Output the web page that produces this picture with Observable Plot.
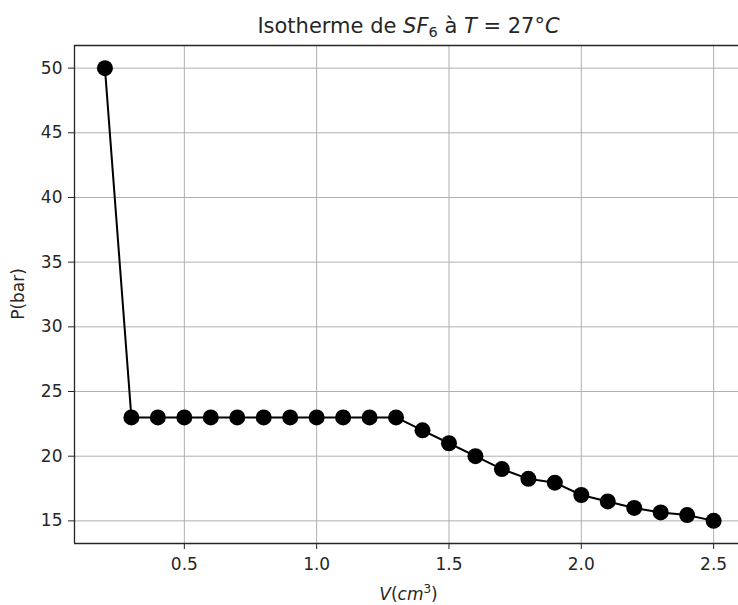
<!DOCTYPE html>
<html>
<head>
<meta charset="utf-8">
<script src="https://cdn.jsdelivr.net/npm/d3@7"></script>
<script src="https://cdn.jsdelivr.net/npm/@observablehq/plot@0.6"></script>
<style>
  body { margin: 0; background: white; }
  #chart svg { display: block; }
</style>
</head>
<body>
<div id="chart"></div>
<script>
const V = [0.2, 0.3, 0.4, 0.5, 0.6, 0.7, 0.8, 0.9, 1.0, 1.1, 1.2, 1.3, 1.4, 1.5, 1.6, 1.7, 1.8, 1.9, 2.0, 2.1, 2.2, 2.3, 2.4, 2.5];
const P = [50, 23, 23, 23, 23, 23, 23, 23, 23, 23, 23, 23, 22, 21, 20, 19, 18.25, 17.95, 17, 16.5, 16, 15.65, 15.45, 15];
const xTicks = [0.5, 1.0, 1.5, 2.0, 2.5];
const yTicks = [15, 20, 25, 30, 35, 40, 45, 50];
const xDomain = [0.085, 2.594];
const yDomain = [13.25, 51.75];

const data = V.map((v, i) => ({V: v, P: P[i]}));
const grid = "#b0b0b0";
const ink = "#262626";

const chart = Plot.plot({
  width: 738,
  height: 605,
  marginLeft: 74,
  marginRight: 0,
  marginTop: 45,
  marginBottom: 62,
  style: {fontFamily: "DejaVu Sans", fontSize: "17px", color: ink, background: "white", overflow: "visible"},
  x: {domain: xDomain},
  y: {domain: yDomain},
  marks: [
    Plot.gridX(xTicks, {stroke: grid, strokeOpacity: 1, strokeWidth: 1}),
    Plot.gridY(yTicks, {stroke: grid, strokeOpacity: 1, strokeWidth: 1}),
    Plot.axisX(xTicks, {tickFormat: d => d.toFixed(1), tickSize: 6, tickPadding: 8, label: null, fontSize: 17, stroke: ink}),
    Plot.axisY(yTicks, {tickSize: 6, tickPadding: 6, label: null, fontSize: 17, stroke: ink}),
    Plot.ruleX([xDomain[0]], {stroke: ink, strokeWidth: 1.3}),
    Plot.ruleY(yDomain, {stroke: ink, strokeWidth: 1.3}),
    Plot.line(data, {x: "V", y: "P", stroke: "black", strokeWidth: 2}),
    Plot.dot(data, {x: "V", y: "P", r: 8, fill: "black", stroke: "none"})
  ]
});

document.getElementById("chart").appendChild(chart);

const svg = d3.select(chart);
const cx = (74 + 743) / 2;

// Title
const title = svg.append("text")
  .attr("x", cx).attr("y", 33)
  .attr("text-anchor", "middle")
  .attr("font-family", "DejaVu Sans")
  .attr("font-size", 21)
  .attr("fill", ink);
title.append("tspan").text("Isotherme de ");
title.append("tspan").attr("font-style", "italic").text("SF");
title.append("tspan").attr("font-size", 14.5).attr("dy", 4).text("6");
title.append("tspan").attr("dy", -4).text(" à ");
title.append("tspan").attr("font-style", "italic").text("T");
title.append("tspan").text(" = 27°");
title.append("tspan").attr("font-style", "italic").text("C");

// X label
const xl = svg.append("text")
  .attr("x", cx).attr("y", 600)
  .attr("text-anchor", "middle")
  .attr("font-family", "DejaVu Sans")
  .attr("font-size", 17)
  .attr("fill", ink);
xl.append("tspan").attr("font-style", "italic").text("V");
xl.append("tspan").text("(");
xl.append("tspan").attr("font-style", "italic").text("cm");
xl.append("tspan").attr("font-size", 12).attr("dy", -7).text("3");
xl.append("tspan").attr("dy", 7).text(")");

// Y label
svg.append("text")
  .attr("transform", `translate(24, ${(45 + 543) / 2}) rotate(-90)`)
  .attr("text-anchor", "middle")
  .attr("font-family", "DejaVu Sans")
  .attr("font-size", 17)
  .attr("fill", ink)
  .text("P(bar)");
</script>
</body>
</html>
